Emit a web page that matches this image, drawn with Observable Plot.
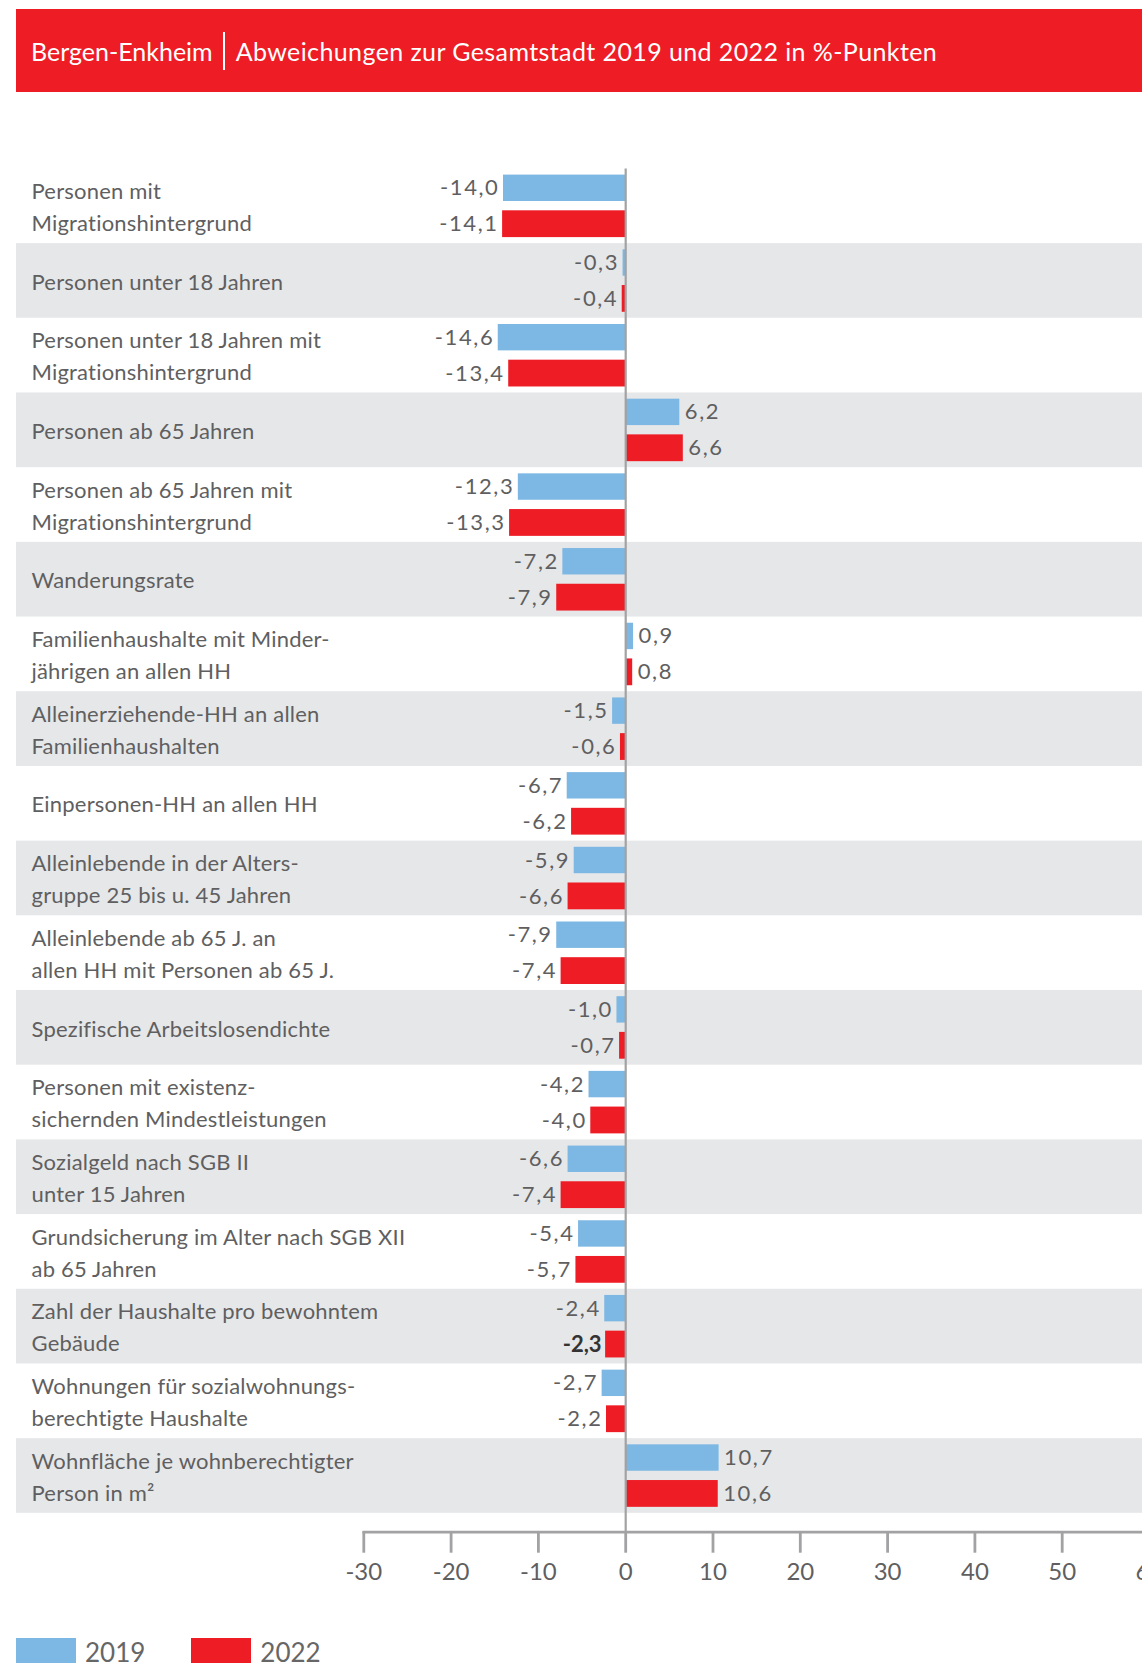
<!DOCTYPE html>
<html>
<head>
<meta charset="utf-8">
<script src="https://cdn.jsdelivr.net/npm/d3@7"></script>
<script src="https://cdn.jsdelivr.net/npm/@observablehq/plot@0.6"></script>
<style>
html, body { margin: 0; padding: 0; overflow: hidden; background: #fff; width: 1142px; height: 1663px; }
body { position: relative; font-family: Lato, "Open Sans", sans-serif; }
#header { position: absolute; left: 16px; top: 9px; width: 1126px; height: 83px; background: #ee1c25; color: #fff;
  font-size: 25px; display: flex; align-items: center; box-sizing: border-box; padding-left: 15px; }
#header .sep { display: inline-block; width: 2px; height: 38px; background: #fff; margin: 0 11px 0 10px; }
#header .sub { letter-spacing: 0.4px; }
#chart { position: absolute; left: 0; top: 100px; }
#chart svg { max-width: none !important; }
#chart g[aria-description="values"] text { letter-spacing: 1.6px; }
#chart g[aria-description="cats"] text { letter-spacing: 0.2px; }
#legend { position: absolute; left: 16px; top: 1636px; display: flex; align-items: center; font-size: 26px; color: #666; }
#legend .sw { display: inline-block; width: 60px; height: 28px; margin-right: 9px; }
#legend .item { display: flex; align-items: center; margin-right: 46px; }
</style>
</head>
<body>
<div id="header"><span>Bergen-Enkheim</span><span class="sep"></span><span class="sub">Abweichungen zur Gesamtstadt 2019 und 2022 in %-Punkten</span></div>
<div id="chart"></div>
<div id="legend"></div>
<script>
const categories = [
  "Personen mit\nMigrationshintergrund",
  "Personen unter 18 Jahren",
  "Personen unter 18 Jahren mit\nMigrationshintergrund",
  "Personen ab 65 Jahren",
  "Personen ab 65 Jahren mit\nMigrationshintergrund",
  "Wanderungsrate",
  "Familienhaushalte mit Minder-\njährigen an allen HH",
  "Alleinerziehende-HH an allen\nFamilienhaushalten",
  "Einpersonen-HH an allen HH",
  "Alleinlebende in der Alters-\ngruppe 25 bis u. 45 Jahren",
  "Alleinlebende ab 65 J. an\nallen HH mit Personen ab 65 J.",
  "Spezifische Arbeitslosendichte",
  "Personen mit existenz-\nsichernden Mindestleistungen",
  "Sozialgeld nach SGB II\nunter 15 Jahren",
  "Grundsicherung im Alter nach SGB XII\nab 65 Jahren",
  "Zahl der Haushalte pro bewohntem\nGebäude",
  "Wohnungen für sozialwohnungs-\nberechtigte Haushalte",
  "Wohnfläche je wohnberechtigter\nPerson in m²"
];
const values2019 = [-14.0, -0.3, -14.6, 6.2, -12.3, -7.2, 0.9, -1.5, -6.7, -5.9, -7.9, -1.0, -4.2, -6.6, -5.4, -2.4, -2.7, 10.7];
const values2022 = [-14.1, -0.4, -13.4, 6.6, -13.3, -7.9, 0.8, -0.6, -6.2, -6.6, -7.4, -0.7, -4.0, -7.4, -5.7, -2.3, -2.2, 10.6];
const bold2022 = ["Zahl der Haushalte pro bewohntem\nGebäude"];
const years = ["2019", "2022"];
const colors = ["#7db7e3", "#ee1c25"];
const xTicks = [-30, -20, -10, 0, 10, 20, 30, 40, 50, 60];

const rows = categories.map((c, i) => ({cat: c, i, v2019: values2019[i], v2022: values2022[i]}));
const bands = rows.filter(d => d.i % 2 === 1);
const fmt = v => v.toFixed(1).replace(".", ",");

const W = 1160, H = 1500;
const mLeft = 363.3, mRight = mLeft + 9 * 87.3;
const mTop = 68.4, rowH = 74.69, bottomY = mTop + rowH * categories.length;
const axisY = 1431.7;
const grey = "#a2a2a4", textCol = "#5f5f61";

function valueLabels(key, dy, boldFilter) {
  const base = {y: "cat", x: key, text: d => fmt(d[key]), dy, fontSize: 22, fill: textCol, ariaDescription: "values"};
  return [
    Plot.text(rows, {...base, filter: d => d[key] < 0 && !boldFilter(d), textAnchor: "end", dx: -4}),
    Plot.text(rows, {...base, filter: d => d[key] >= 0 && !boldFilter(d), textAnchor: "start", dx: 5}),
    Plot.text(rows, {...base, filter: d => boldFilter(d), textAnchor: "end", dx: -4, fontWeight: "bold", fill: "#333", ariaDescription: "bold"})
  ];
}

const plot = Plot.plot({
  width: W, height: H,
  marginLeft: mLeft, marginRight: W - mRight, marginTop: mTop, marginBottom: H - axisY,
  style: {fontFamily: "Lato, 'Open Sans', sans-serif", background: "transparent", overflow: "visible", maxWidth: "none"},
  x: {domain: [xTicks[0], xTicks[xTicks.length - 1]], range: [mLeft, mRight], axis: null},
  y: {domain: categories, range: [mTop, bottomY], padding: 0, round: false, axis: null},
  marks: [
    Plot.barX(bands, {y: "cat", x1: xTicks[0], x2: xTicks[xTicks.length - 1], fill: "#e6e7e8", insetLeft: -(mLeft - 16), insetRight: -40}),
    Plot.barX(rows, {y: "cat", x: "v2019", fill: colors[0], insetTop: 6.2, insetBottom: rowH - 6.2 - 26.4}),
    Plot.barX(rows, {y: "cat", x: "v2022", fill: colors[1], insetTop: 41.9, insetBottom: rowH - 41.9 - 26.8}),
    Plot.ruleX([0], {stroke: grey, strokeWidth: 2.2}),
    Plot.frame({anchor: "bottom", stroke: grey, strokeWidth: 2.8}),
    Plot.axisX(xTicks, {tickSize: 21, tickPadding: 10, tickFormat: d => String(d), fontSize: 24, stroke: grey, strokeWidth: 2.8, fill: textCol, color: textCol}),
    Plot.text(rows, {y: "cat", text: "cat", frameAnchor: "left", textAnchor: "start", dx: 31 - mLeft, dy: -1.5, lineHeight: 1.45, fontSize: 22, fill: textCol, ariaDescription: "cats"}),
    ...valueLabels("v2019", -18, d => false),
    ...valueLabels("v2022", 18, d => bold2022.includes(d.cat))
  ]
});
document.getElementById("chart").appendChild(plot);

const legend = document.getElementById("legend");
years.forEach((y, i) => {
  const it = document.createElement("div");
  it.className = "item";
  it.innerHTML = `<span class="sw" style="background:${colors[i]}"></span><span>${y}</span>`;
  legend.appendChild(it);
});
</script>
</body>
</html>
